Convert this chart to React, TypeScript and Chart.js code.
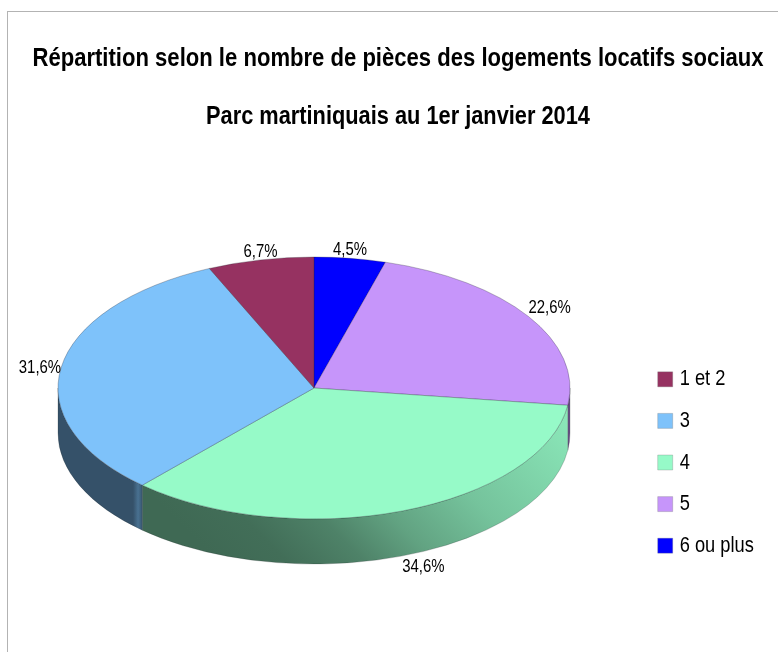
import React, { useEffect, useRef } from "react";
import { Chart, registerables } from "chart.js";

Chart.register(...registerables);

const titleLines = [
  "Répartition selon le nombre de pièces des logements locatifs sociaux",
  "Parc martiniquais au 1er janvier 2014",
];
const categories = ["6 ou plus", "5", "4", "3", "1 et 2"];
const legendOrder = ["1 et 2", "3", "4", "5", "6 ou plus"];
const values = [4.5, 22.6, 34.6, 31.6, 6.7];
const valueLabels = ["4,5%", "22,6%", "34,6%", "31,6%", "6,7%"];
const colors = ["#0000ff", "#c695fa", "#96fac8", "#7ec2fa", "#963261"];
const sideShades: [number, number][][] = [
  [[0, 0.4], [1, 0.4]],
  [[0, 0.55], [1, 0.55]],
  [[0, 0.42], [0.14, 0.44], [0.3, 0.52], [0.45, 0.65], [0.65, 0.78], [1, 0.92]],
  [[0, 0.42], [0.89, 0.42], [0.95, 0.58], [1, 0.45]],
  [[0, 0.4], [1, 0.4]],
];

const CX = 314;
const CY = 388;
const RX = 256;
const RY = 131;
const DEPTH = 45;
const LEGEND_GAP = 4;
const FONT = '"Liberation Sans", sans-serif';

const condenseFor = (t: string) =>
  t === titleLines[0] ? 0.849 : t === titleLines[1] ? 0.838 : 0.83;

const shade = (hex: string, f: number) => {
  const n = parseInt(hex.slice(1), 16);
  const c = [(n >> 16) & 255, (n >> 8) & 255, n & 255].map((v) => Math.round(v * f));
  return `rgb(${c[0]},${c[1]},${c[2]})`;
};

const piePlugin = {
  id: "pie3d",
  beforeInit(chart: any) {
    // every text of the chart is set in a horizontally condensed cut
    const ctx = chart.ctx;
    const fill = ctx.fillText.bind(ctx);
    ctx.fillText = (t: string, x: number, y: number) =>
      fill(t, legendOrder.includes(t) ? x - LEGEND_GAP : x, y, ctx.measureText(t).width * condenseFor(t));
  },
  beforeDatasetDraw(chart: any) {
    const { ctx } = chart;
    const arcs = chart.getDatasetMeta(0).data;
    // extruded wall, painted behind the top face
    arcs.forEach((arc: any, i: number) => {
      const a0 = Math.max(arc.startAngle, 0);
      const a1 = Math.min(arc.endAngle, Math.PI);
      if (a1 <= a0) return;
      const x0 = CX + RX * Math.cos(a1);
      const x1 = CX + RX * Math.cos(a0);
      const y0 = CY + RY * Math.sin(a1);
      const g =
        categories[i] === "4"
          ? ctx.createLinearGradient(x0, y0, x0 + 243.5, y0 - 243.5)
          : ctx.createLinearGradient(x0, 0, x1, 0);
      sideShades[i].forEach(([s, f]) => g.addColorStop(s, shade(colors[i], f)));
      ctx.beginPath();
      ctx.ellipse(CX, CY, RX, RY, 0, a0, a1);
      ctx.ellipse(CX, CY + DEPTH, RX, RY, 0, a1, a0, true);
      ctx.closePath();
      ctx.fillStyle = g;
      ctx.fill();
      ctx.lineWidth = 0.5;
      ctx.strokeStyle = "rgba(30,40,40,0.45)";
      ctx.stroke();
    });
    // squash the library's circular pie onto the ellipse
    const a = arcs[0];
    ctx.save();
    ctx.translate(CX, CY);
    ctx.scale(RX / a.outerRadius, RY / a.outerRadius);
    ctx.translate(-a.x, -a.y);
  },
  afterDatasetDraw(chart: any) {
    const { ctx } = chart;
    ctx.restore();
    const arcs = chart.getDatasetMeta(0).data;
    ctx.save();
    ctx.fillStyle = "#000";
    ctx.font = `18px ${FONT}`;
    arcs.forEach((arc: any, i: number) => {
      const mid = (arc.startAngle + arc.endAngle) / 2;
      const c = Math.cos(mid);
      const s = Math.sin(mid);
      const x = CX + RX * c;
      let y = CY + RY * s + 1;
      ctx.textAlign = c > 0.3 ? "left" : c < -0.3 ? "right" : "center";
      if (s > 0.5) {
        ctx.textBaseline = "top";
        y += DEPTH + 1;
      } else if (s < -0.5) {
        ctx.textBaseline = "bottom";
      } else {
        ctx.textBaseline = "middle";
      }
      ctx.fillText(valueLabels[i], x, y);
    });
    ctx.restore();
  },
};

export default function App() {
  const ref = useRef<HTMLCanvasElement>(null);
  useEffect(() => {
    if (!ref.current) return;
    const chart = new Chart(ref.current, {
      type: "pie",
      data: {
        labels: categories,
        datasets: [
          {
            data: values,
            backgroundColor: colors,
            borderColor: "rgba(30,30,40,0.45)",
            borderWidth: 0.6,
            clip: false,
          } as any,
        ],
      },
      plugins: [piePlugin],
      options: {
        responsive: false,
        animation: false,
        layout: { padding: { left: 13, right: -5, top: 0, bottom: 0 } },
        plugins: {
          tooltip: { enabled: false },
          title: {
            display: true,
            text: titleLines,
            color: "#000",
            font: { family: FONT, size: 26, weight: "bold", lineHeight: 58 / 26 },
            padding: { top: 30, bottom: 127 },
          },
          legend: {
            position: "right",
            fullSize: false,
            labels: {
              color: "#000",
              boxWidth: 15,
              boxHeight: 15,
              padding: 19.6,
              font: { family: FONT, size: 22 },
              generateLabels: () =>
                legendOrder.map((text) => {
                  const i = categories.indexOf(text);
                  return {
                    text,
                    fillStyle: colors[i],
                    strokeStyle: "rgba(120,120,120,0.3)",
                    lineWidth: 1,
                    index: i,
                    hidden: false,
                  };
                }),
            },
          },
        },
      },
    });
    return () => chart.destroy();
  }, []);
  return (
    <div style={{ position: "fixed", left: 0, top: 0, width: 778, height: 652, overflow: "hidden", background: "#fff" }}>
      <div style={{ position: "absolute", left: 7, top: 11, right: 0, bottom: 0, borderLeft: "1px solid #b3b3b3", borderTop: "1px solid #b3b3b3" }} />
      <canvas ref={ref} width={778} height={652} style={{ position: "absolute", left: 0, top: 0, display: "block" }} />
    </div>
  );
}
